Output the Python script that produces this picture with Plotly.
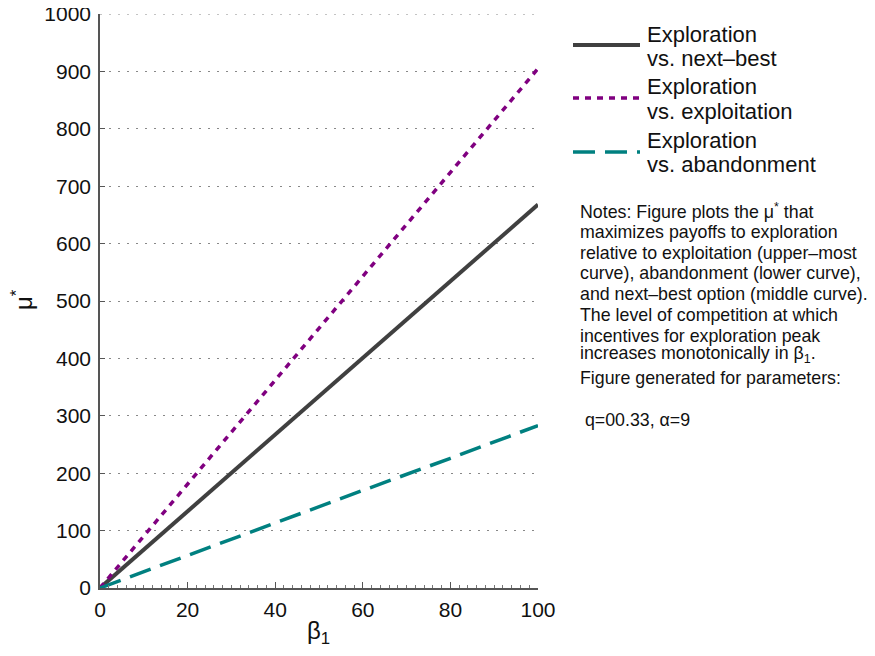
import plotly.graph_objects as go

beta1 = [0, 20, 40, 60, 80, 100]
mu_next_best = [0, 134, 268, 401, 535, 668]
mu_exploitation = [0, 181, 362, 543, 724, 905]
mu_abandonment = [0, 57, 113, 170, 226, 283]
y_max = 1000

legend_labels = [("Exploration", "vs. next\u2013best"),
                 ("Exploration", "vs. exploitation"),
                 ("Exploration", "vs. abandonment")]
notes_lines = [
    "Notes: Figure plots the \u03bc<sup>*</sup> that",
    "maximizes payoffs to exploration",
    "relative to exploitation (upper\u2013most",
    "curve), abandonment (lower curve),",
    "and next\u2013best option (middle curve).",
    "The level of competition at which",
    "incentives for exploration peak",
    "increases monotonically in \u03b2<sub>1</sub>.",
    "Figure generated for parameters:",
    " q=00.33, \u03b1=9",
]
notes_y_px = [211, 232, 253, 273, 294, 315, 336, 354, 378, 420]

FONT = "Liberation Sans, Arial, Helvetica, sans-serif"
OFF = 8  # page body offset
L, R, T, B = 100 - OFF, 538 - OFF, 14 - OFF, 588 - OFF
W, H = 875 - OFF, 656 - OFF

def px_x(px):
    return (px - OFF - L) / (R - L)

def px_y(py):
    return (B - (py - OFF)) / (B - T)

series = [
    (mu_next_best, "#404040", "solid", 4),
    (mu_exploitation, "#800080", "6px,6px", 3.5),
    (mu_abandonment, "#008080", "22px,10px", 3.5),
]

fig = go.Figure()
for ys, col, dash, w in series:
    fig.add_trace(go.Scatter(x=beta1, y=ys, mode="lines",
                             line=dict(color=col, dash=dash, width=w),
                             showlegend=False, hoverinfo="skip"))

shapes = []
annotations = []

# top gridline (plotly drops gridlines at the very edge of the range)
shapes.append(dict(type="line", xref="paper", yref="y", x0=0, x1=1,
                   y0=y_max, y1=y_max, layer="below",
                   line=dict(color="#888", dash="2px,7px", width=1)))

leg_y = [45, 98, 152]
for (ys, col, dash, w), (l1, l2), ly in zip(series, legend_labels, leg_y):
    shapes.append(dict(type="line", xref="paper", yref="paper",
                       x0=px_x(573), x1=px_x(640), y0=px_y(ly), y1=px_y(ly),
                       line=dict(color=col, dash=dash, width=w)))
    for txt, dy in ((l1, -11), (l2, 13)):
        annotations.append(dict(xref="paper", yref="paper", x=px_x(645),
                                y=px_y(ly + dy), xanchor="left", yanchor="middle",
                                align="left", text=txt, showarrow=False,
                                font=dict(family=FONT, size=22, color="#111")))

for txt, py in zip(notes_lines, notes_y_px):
    annotations.append(dict(xref="paper", yref="paper", x=px_x(578), y=px_y(py),
                            xanchor="left", yanchor="middle", align="left",
                            text=txt, showarrow=False,
                            font=dict(family=FONT, size=17.8, color="#111")))

# axis titles as annotations for exact placement
annotations.append(dict(xref="paper", yref="paper", x=px_x(318), y=px_y(632),
                        xanchor="center", yanchor="middle", showarrow=False,
                        text="\u03b2<sub>1</sub>",
                        font=dict(family=FONT, size=24, color="#111")))
annotations.append(dict(xref="paper", yref="paper", x=px_x(22), y=px_y(300),
                        xanchor="center", yanchor="middle", showarrow=False,
                        textangle=-90, text="\u03bc<sup>*</sup>",
                        font=dict(family=FONT, size=24, color="#111")))

fig.update_layout(
    width=W, height=H,
    margin=dict(l=L, r=W - R, t=T, b=H - B, pad=0, autoexpand=False),
    plot_bgcolor="white", paper_bgcolor="white",
    font=dict(family=FONT, size=21, color="#111"),
    shapes=shapes, annotations=annotations,
    xaxis=dict(range=[0, 100], dtick=20, showline=True, linecolor="#555",
               linewidth=1.5, ticks="inside", ticklen=6, tickcolor="#555",
               showgrid=False, zeroline=False, tickfont=dict(size=21),
               automargin=False, ticklabelstandoff=2, ticklabeloverflow="allow",
               minor=dict(dtick=2, ticks="inside", ticklen=3, tickcolor="#777")),
    yaxis=dict(range=[0, y_max], dtick=100, showline=True, linecolor="#555",
               linewidth=1.5, ticks="inside", ticklen=5, tickcolor="#555",
               showgrid=True, gridcolor="#888", griddash="2px,7px", gridwidth=1,
               zeroline=False, tickfont=dict(size=21), automargin=False,
               ticklabelstandoff=3, ticklabeloverflow="allow"),
)

fig.write_html("out.html")
